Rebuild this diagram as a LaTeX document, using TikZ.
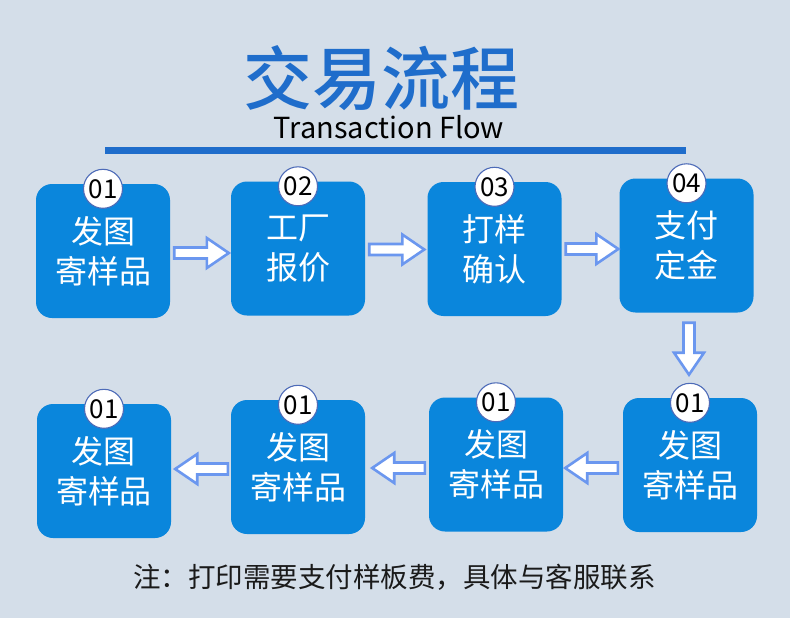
\documentclass[tikz,border=0pt]{standalone}
\usepackage{fontspec}
\newfontfamily\cjk{Noto Sans CJK SC}
\newfontfamily\cjkt{Noto Sans CJK SC Medium}
\usetikzlibrary{calc}
\definecolor{bg}{HTML}{D4DEE9}
\definecolor{boxblue}{HTML}{0A86DC}
\definecolor{titleblue}{HTML}{1F6DCB}
\definecolor{arrline}{HTML}{6B97EF}
\definecolor{circline}{HTML}{4D6BB8}
\definecolor{foot}{HTML}{1A1A1A}
\newcommand\blockarrow[2]{%
  \coordinate (H) at ($(#2)!22pt!(#1)$);
  \draw[arw] ($(#1)!5.5pt!90:(#2)$) -- ($(H)!5.5pt!90:(#2)$) -- ($(H)!15pt!90:(#2)$) -- (#2)
    -- ($(H)!15pt!-90:(#2)$) -- ($(H)!5.5pt!-90:(#2)$) -- ($(#1)!5.5pt!-90:(#2)$) -- cycle;}
\begin{document}
\begin{tikzpicture}[x=1pt,y=-1pt,
  box/.style={fill=boxblue, rounded corners=16pt, minimum width=134pt, minimum height=134pt,
    inner sep=0pt, text=white, align=center, font=\cjk\fontsize{32}{40}\selectfont},
  num/.style={circle, fill=white, draw=circline, line width=1.1pt, minimum size=39pt,
    inner sep=0pt, font=\cjk\fontsize{26}{26}\selectfont, text=black},
  arw/.style={fill=white, draw=arrline, line width=2.6pt, line join=miter}]
\fill[bg] (0,0) rectangle (790,618);
\useasboundingbox (0,0) rectangle (790,618);
% title
\node[text=titleblue, font=\cjkt\fontsize{69}{69}\selectfont, inner sep=0pt] (title) at (381.5,78) {交易流程};
\node[text=black, font=\cjk\fontsize{29}{29}\selectfont, inner sep=0pt, anchor=base] (sub) at (389,138) {Transaction Flow};
\fill[titleblue] (105,147) rectangle (686,154);
% boxes
\node[box] (b1) at (103,251) {发图\\寄样品};
\node[box] (b2) at (298,248.5) {工厂\\报价};
\node[box] (b3) at (494.5,249) {打样\\确认};
\node[box] (b4) at (686.5,245.5) {支付\\定金};
\node[box] (b8) at (690,465) {发图\\寄样品};
\node[box] (b7) at (496,464.5) {发图\\寄样品};
\node[box] (b6) at (298,467) {发图\\寄样品};
\node[box] (b5) at (104,471) {发图\\寄样品};
% number circles
\node[num] (c1) at ($(b1.north)+(0,5)$) {01};
\node[num] (c2) at ($(b2.north)+(0,5)$) {02};
\node[num] (c3) at ($(b3.north)+(0,5)$) {03};
\node[num] (c4) at ($(b4.north)+(0,5)$) {04};
\node[num] (c8) at ($(b8.north)+(0,5)$) {01};
\node[num] (c7) at ($(b7.north)+(0,5)$) {01};
\node[num] (c6) at ($(b6.north)+(0,5)$) {01};
\node[num] (c5) at ($(b5.north)+(0,5)$) {01};
% arrows
\coordinate (a1s) at ($(b1.east)+(4,2)$);  \coordinate (a1e) at ($(b1.east -| b2.west)+(-2,2)$);
\coordinate (a2s) at ($(b2.east)+(4,1)$);  \coordinate (a2e) at ($(b2.east -| b3.west)+(-3,1)$);
\coordinate (a3s) at ($(b3.east)+(4,0)$);  \coordinate (a3e) at ($(b3.east -| b4.west)+(-1,0)$);
\coordinate (a4s) at ($(b4.south)+(2.5,10)$); \coordinate (a4e) at ($(b4.south)+(2.5,62)$);
\coordinate (a5s) at ($(b8.west)+(-5,3)$); \coordinate (a5e) at ($(b8.west -| b7.east)+(2,3)$);
\coordinate (a6s) at ($(b7.west)+(-4,3.5)$); \coordinate (a6e) at ($(b7.west -| b6.east)+(7,3.5)$);
\coordinate (a7s) at ($(b6.west)+(-3,2)$); \coordinate (a7e) at ($(b6.west -| b5.east)+(4,2)$);
\blockarrow{a1s}{a1e}
\blockarrow{a2s}{a2e}
\blockarrow{a3s}{a3e}
\blockarrow{a4s}{a4e}
\blockarrow{a5s}{a5e}
\blockarrow{a6s}{a6e}
\blockarrow{a7s}{a7e}
% footer
\node[text=foot, font=\cjk\fontsize{27.5}{27.5}\selectfont, inner sep=0pt] (note) at (394.5,577) {注：打印需要支付样板费，具体与客服联系};
\end{tikzpicture}
\end{document}
